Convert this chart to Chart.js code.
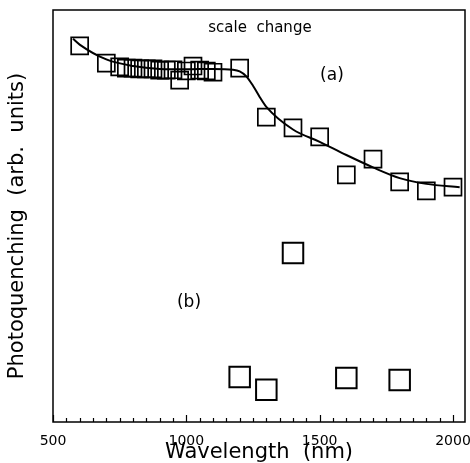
<!DOCTYPE html>
<html>
<head>
<meta charset="utf-8">
<script src="https://cdn.jsdelivr.net/npm/chart.js@4"></script>
<style>
  body { margin: 0; background: #fff; }
  canvas { display: block; }
</style>
</head>
<body>
<canvas id="chart" width="470" height="463"></canvas>
<script>
// wavelength (nm) and photoquenching (arb. units)
const aX = [600, 700, 750, 775, 800, 825, 850, 875, 900, 925, 950, 975, 1000, 1025, 1050, 1075, 1100, 1200, 1300, 1400, 1500, 1600, 1700, 1800, 1900, 2000];
const aY = [91.3, 87.1, 86.2, 85.9, 85.9, 85.7, 85.7, 85.7, 85.4, 85.4, 85.5, 83.0, 85.2, 86.4, 85.4, 85.2, 84.9, 85.9, 74.0, 71.4, 69.2, 60.0, 63.8, 58.3, 56.1, 57.0];

const bX = [1200, 1300, 1400, 1600, 1800];
const bY = [10.9, 7.8, 41.0, 10.7, 10.2];

// guide curve through series (a)
const curveX = [575, 600, 700, 800, 900, 1000, 1100, 1175, 1200, 1225, 1250, 1275, 1300, 1400, 1500, 1600, 1700, 1800, 1900, 2025];
const curveY = [93.0, 91.6, 88.0, 86.4, 85.7, 85.6, 85.7, 85.5, 85.1, 83.9, 81.6, 78.9, 76.5, 71.0, 68.0, 64.8, 61.8, 59.2, 57.8, 57.0];

const tickLabels = [500, 1000, 1500, 2000];
const minorStep = 50;

const noteText = ["scale  change", "(a)", "(b)"];
const noteX = [1276, 1546, 1010];
const noteY = [95.6, 84.0, 28.9];
const noteSize = [15, 17, 17];

const toPoints = (xs, ys) => xs.map((x, i) => ({ x: x, y: ys[i] }));

const minorTicks = [];
for (let v = tickLabels[0]; v <= tickLabels[tickLabels.length - 1]; v += minorStep) {
    minorTicks.push(v);
}

Chart.defaults.font.family = "DejaVu Sans";
Chart.defaults.color = "#000";

const decorations = {
    id: "decorations",
    afterDraw(chart) {
        const { ctx, chartArea: a, scales: { x, y } } = chart;
        ctx.save();
        ctx.strokeStyle = "#000";
        ctx.lineWidth = 1.5;
        ctx.strokeRect(a.left, a.top, a.right - a.left, a.bottom - a.top);

        // inward ticks on the wavelength axis
        ctx.lineWidth = 1.2;
        ctx.beginPath();
        minorTicks.forEach((v) => {
            const px = Math.round(x.getPixelForValue(v)) + 0.5;
            const len = tickLabels.includes(v) ? 7 : 4;
            ctx.moveTo(px, a.bottom);
            ctx.lineTo(px, a.bottom - len);
        });
        ctx.stroke();

        ctx.fillStyle = "#000";
        ctx.textAlign = "center";
        ctx.textBaseline = "middle";
        noteText.forEach((t, i) => {
            ctx.font = noteSize[i] + "px 'DejaVu Sans'";
            ctx.fillText(t, x.getPixelForValue(noteX[i]), y.getPixelForValue(noteY[i]));
        });
        ctx.restore();
    }
};

new Chart(document.getElementById("chart"), {
    type: "scatter",
    data: {
        datasets: [
            {
                label: "fit",
                data: toPoints(curveX, curveY),
                showLine: true,
                cubicInterpolationMode: "monotone",
                borderColor: "#000",
                borderWidth: 2,
                pointRadius: 0,
            },
            {
                label: "(a)",
                data: toPoints(aX, aY),
                pointStyle: "rect",
                pointRadius: 12,
                borderColor: "#000",
                borderWidth: 1.7,
                backgroundColor: "rgba(0,0,0,0)",
            },
            {
                label: "(b)",
                data: toPoints(bX, bY),
                pointStyle: "rect",
                pointRadius: 14.5,
                borderColor: "#000",
                borderWidth: 2,
                backgroundColor: "rgba(0,0,0,0)",
            },
        ],
    },
    options: {
        responsive: false,
        animation: false,
        layout: { autoPadding: false, padding: { top: 10, right: 5, left: 0, bottom: 0 } },
        plugins: { legend: { display: false }, tooltip: { enabled: false } },
        scales: {
            x: {
                type: "linear",
                min: 500,
                max: 2045,
                grid: { display: false },
                border: { display: false },
                afterBuildTicks: (s) => { s.ticks = tickLabels.map((v) => ({ value: v })); },
                afterFit: (s) => { s.height = 41; s.paddingLeft = 0; s.paddingRight = 0; },
                ticks: {
                    padding: 3,
                    maxRotation: 0,
                    autoSkip: false,
                    font: { size: 14 },
                    callback: (v) => String(v),
                },
                title: {
                    display: true,
                    text: "Wavelength  (nm)",
                    font: { size: 21, lineHeight: 1 },
                    padding: 0,
                },
            },
            y: {
                min: 0,
                max: 100,
                grid: { display: false },
                border: { display: false },
                ticks: { display: false },
                afterFit: (s) => { s.width = 53; s.paddingTop = 0; s.paddingBottom = 0; },
                title: {
                    display: true,
                    // trailing spaces nudge the rotated title down a little
                    text: "Photoquenching  (arb.  units)   ",
                    font: { size: 21, lineHeight: 1 },
                    padding: { top: 7, bottom: 0 },
                },
            },
        },
    },
    plugins: [decorations],
});
</script>
</body>
</html>
